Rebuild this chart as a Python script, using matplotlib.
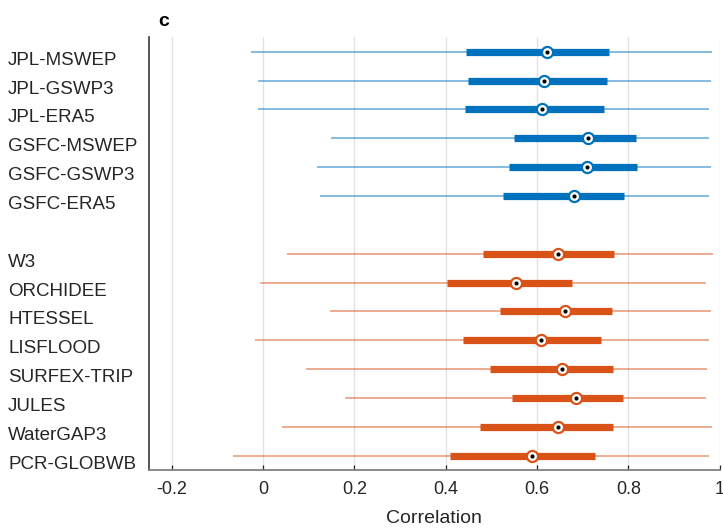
import numpy as np
import matplotlib
matplotlib.use("Agg")
import matplotlib.pyplot as plt
import matplotlib.transforms as mtransforms

plt.rcParams['font.family']=['Liberation Sans','DejaVu Sans']

# upper group (blue) and lower group (orange)
labels_a=["JPL-MSWEP","JPL-GSWP3","JPL-ERA5","GSFC-MSWEP","GSFC-GSWP3","GSFC-ERA5"]
min_a=[-0.027,-0.010,-0.011,0.150,0.118,0.126]
q1_a=[0.445,0.448,0.443,0.550,0.538,0.525]
med_a=[0.622,0.616,0.612,0.712,0.710,0.682]
q3_a=[0.758,0.753,0.746,0.816,0.819,0.790]
max_a=[0.984,0.982,0.977,0.976,0.980,0.976]

labels_b=["W3","ORCHIDEE","HTESSEL","LISFLOOD","SURFEX-TRIP","JULES","WaterGAP3","PCR-GLOBWB"]
min_b=[0.052,-0.006,0.147,-0.018,0.094,0.179,0.042,-0.065]
q1_b=[0.482,0.402,0.518,0.438,0.498,0.546,0.476,0.410]
med_b=[0.646,0.555,0.661,0.608,0.655,0.685,0.646,0.590]
q3_b=[0.768,0.676,0.765,0.741,0.766,0.789,0.766,0.726]
max_b=[0.985,0.970,0.981,0.977,0.973,0.969,0.983,0.977]

xticks=[-0.2,0,0.2,0.4,0.6,0.8,1]
xticklabels=["-0.2","0","0.2","0.4","0.6","0.8","1"]

blue="#0072BD"
orange="#D95319"
textcol="#262626"

fig=plt.figure(figsize=(7.23,5.28),dpi=100)
ax=fig.add_axes([0.2057,0.1098,0.7897,0.8196])

def draw_group(pos,mins,q1s,meds,q3s,maxs,col):
    for y,lo,a,m,b,hi in zip(pos,mins,q1s,meds,q3s,maxs):
        ax.plot([lo,hi],[y,y],color=col,lw=1.1,alpha=0.6,solid_capstyle='butt',zorder=2)
        ax.plot([a,b],[y,y],color=col,lw=5.2,solid_capstyle='butt',zorder=3)
        ax.plot(m,y,'o',ms=8,mfc='white',mec=col,mew=1.6,zorder=4)
        ax.plot(m,y,'o',ms=3,mfc='black',mec='black',mew=0,zorder=5)

pos_a=np.arange(1,len(labels_a)+1)
pos_b=np.arange(len(labels_a)+2,len(labels_a)+2+len(labels_b))
draw_group(pos_a,min_a,q1_a,med_a,q3_a,max_a,blue)
draw_group(pos_b,min_b,q1_b,med_b,q3_b,max_b,orange)

ax.set_xlim(-0.25,1.0)
ax.set_ylim(15.5,0.5)
ax.set_xticks(xticks)
ax.set_xticklabels(xticklabels,fontsize=13,color=textcol)
ax.set_yticks([])
ax.tick_params(axis='x',direction='in',length=3.5,width=0.9,color=textcol,pad=8)

# row labels are left aligned at the figure edge, sitting a bit below their rows
trans=mtransforms.blended_transform_factory(fig.transFigure,ax.transData)
offset=mtransforms.ScaledTranslation(0,-0.085,fig.dpi_scale_trans)
for y,name in zip(list(pos_a)+list(pos_b),labels_a+labels_b):
    ax.text(8/723,y,name,transform=trans+offset,ha='left',va='center',
            fontsize=13.5,color=textcol,clip_on=False)

ax.grid(axis='x',color='#e3e3e3',lw=1)
ax.set_axisbelow(True)
for s in ['top','right']:
    ax.spines[s].set_visible(False)
ax.spines['left'].set_color('#262626')
ax.spines['left'].set_linewidth(1.1)
ax.spines['bottom'].set_color('#808080')
ax.spines['bottom'].set_linewidth(1.3)

ax.set_xlabel("Correlation",fontsize=14,color=textcol,labelpad=8.5)
fig.text(164/723,1-22/528,"c",ha='center',va='center',fontsize=14,fontweight='bold')

plt.savefig("out.png",dpi=100)
